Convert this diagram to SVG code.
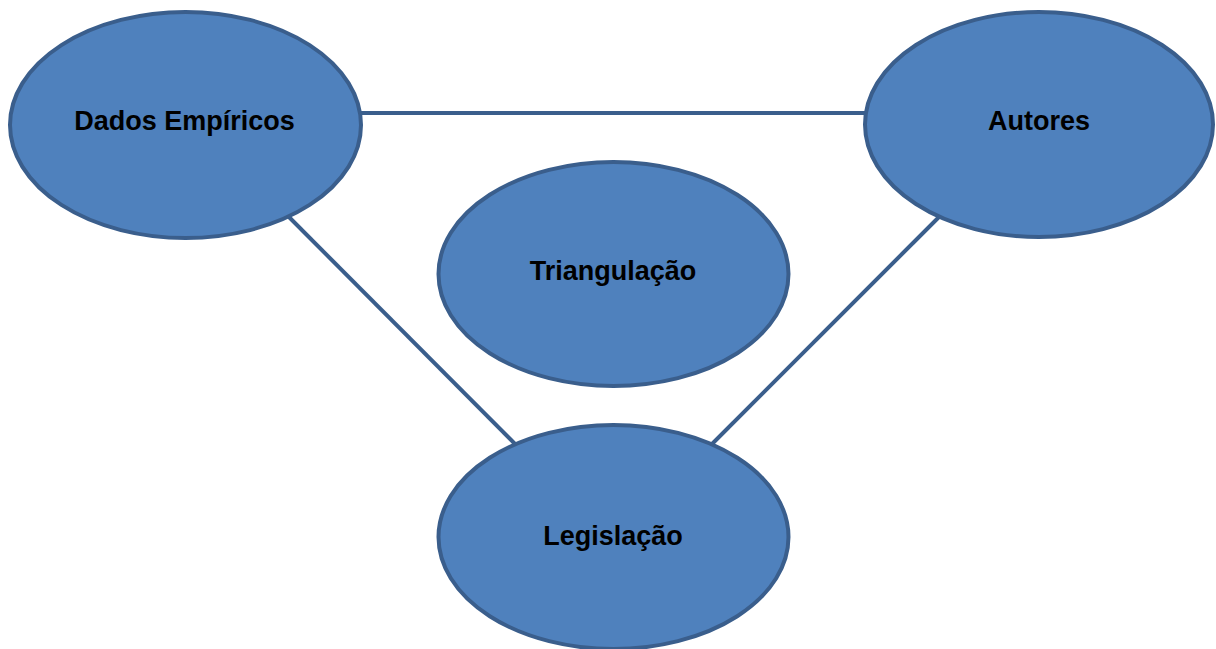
<svg xmlns="http://www.w3.org/2000/svg" width="1216" height="649" viewBox="0 0 1216 649">
<style>
.node ellipse{fill:#4F81BD;stroke:#3A5E8C;stroke-width:4}
.node text{font-family:"Liberation Sans",Arial,sans-serif;font-weight:bold;font-size:27px;fill:#000;text-anchor:middle}
.conn line{stroke:#3A5E8C;stroke-width:4}
</style>
<rect width="1216" height="649" fill="#fff"/>
<g id="connectors" class="conn">
<line x1="340" y1="113" x2="880" y2="113"/>
<line x1="280" y1="208" x2="522" y2="451"/>
<line x1="948" y1="208" x2="706" y2="450"/>
</g>
<g id="dados" class="node">
<ellipse cx="185.5" cy="125" rx="175.5" ry="113"/>
<text x="184.5" y="129.5">Dados Empíricos</text>
</g>
<g id="autores" class="node">
<ellipse cx="1039" cy="124.5" rx="174" ry="112.5"/>
<text x="1039" y="129.5">Autores</text>
</g>
<g id="triangulacao" class="node">
<ellipse cx="613.5" cy="274" rx="175" ry="112"/>
<text x="613" y="279.5">Triangulação</text>
</g>
<g id="legislacao" class="node">
<ellipse cx="613.5" cy="537" rx="175" ry="112"/>
<text x="613" y="544.5">Legislação</text>
</g>
</svg>
